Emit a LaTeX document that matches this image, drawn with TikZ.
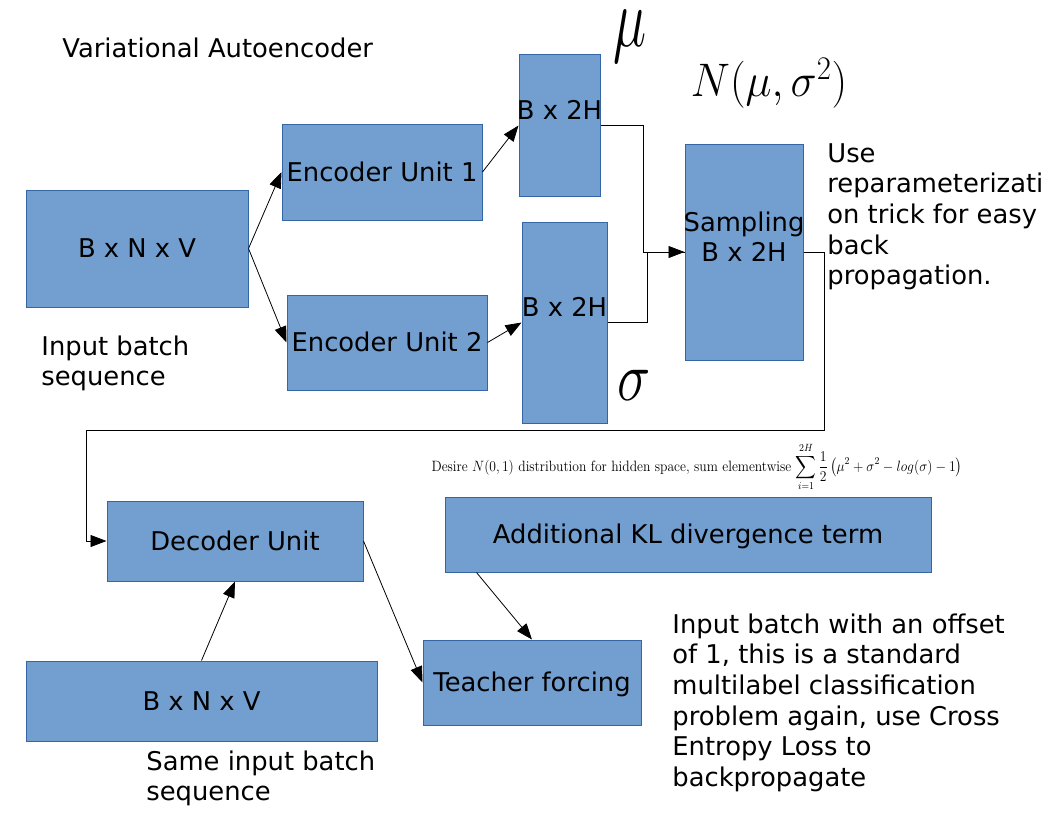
\RequirePackage{fix-cm}
\documentclass[tikz,border=0pt]{standalone}
\usepackage{fontspec}
\setmainfont{DejaVu Sans}
\usepackage{amsmath}
\usepackage{graphicx}
\usetikzlibrary{arrows.meta}

\definecolor{boxfill}{HTML}{729FCF}
\definecolor{boxline}{HTML}{3465A4}

\begin{document}
\begin{tikzpicture}[x=1pt,y=-1pt,->,>={Triangle[length=16pt,width=12pt]},line width=0.8pt,
  unit node/.style={rectangle,fill=boxfill,draw=boxline,line width=1pt,inner sep=0pt,
    text height=18.8pt,text depth=0pt,font=\fontsize{25.8pt}{30.7pt}\selectfont},
  note node/.style={align=left,anchor=base west,inner sep=0pt,font=\fontsize{25.8pt}{30.7pt}\selectfont},
  greek node/.style={inner sep=0pt}]
   \useasboundingbox (0,0) rectangle (1056,816);
   % encoder side
   \node[unit node,minimum width=222pt,minimum height=117pt] (inp) at (137,248.5) {B x N x V};
   \node[unit node,minimum width=200pt,minimum height=96pt] (enc1) at (382,172) {Encoder Unit 1};
   \node[unit node,minimum width=200pt,minimum height=95pt] (enc2) at (387,342.5) {Encoder Unit 2};
   \node[unit node,minimum width=81pt,minimum height=141pt,text depth=31pt] (mu) at (559.5,125.5) {\makebox[0pt]{B x 2H}};
   \node[unit node,minimum width=85pt,minimum height=201pt,text depth=31pt] (sig) at (564.5,322.5) {\makebox[0pt]{B x 2H}};
   \node[unit node,minimum width=118pt,minimum height=216pt,align=center,text height=49.5pt,text depth=30pt] (samp) at (744,252)
     {\makebox[0pt]{Sampling}\\\makebox[0pt]{B x 2H}};
   % decoder side
   \node[unit node,minimum width=256pt,minimum height=80pt] (dec) at (235,541) {Decoder Unit};
   \node[unit node,minimum width=351pt,minimum height=80pt] (inp2) at (201.5,701) {B x N x V};
   \node[unit node,minimum width=218pt,minimum height=85pt] (tf) at (532,682.5) {Teacher forcing};
   \node[unit node,minimum width=486pt,minimum height=75pt] (kl) at (688,534.5) {Additional KL divergence term};
   % labels (base = last line)
   \node[note node] (title) at (62,57) {Variational Autoencoder};
   \node[note node] (inpnote) at (41,385.7) {Input batch\\sequence};
   \node[note node] (inp2note) at (146,800.7) {Same input batch\\sequence};
   \node[note node] (sampnote) at (827,284.8) {Use\\reparameterizati\\on trick for easy\\back\\propagation.};
   \node[note node] (tfnote) at (672,786.5) {Input batch with an offset\\of 1, this is a standard\\multilabel classification\\problem again, use Cross\\Entropy Loss to\\backpropagate};
   \node[greek node,font=\fontsize{56pt}{60pt}\selectfont] (mulabel) at (630,36.5) {\scalebox{1}[1.5]{$\mu$}};
   \node[greek node,font=\fontsize{56pt}{60pt}\selectfont] (siglabel) at (634,385) {\scalebox{1}[1.25]{$\sigma$}};
   \node[greek node,font=\fontsize{44pt}{50pt}\selectfont] (dist) at (769,83.5) {\scalebox{1}[1.07]{$N(\mu,\sigma^2)$}};
   \node[greek node,font=\fontsize{13.6pt}{16pt}\fontfamily{lmr}\selectfont] (kllabel) at (697,467)
     {\scalebox{1}[1.1]{Desire $N(0,1)$ distribution for hidden space, sum elementwise
      $\displaystyle\sum_{i=1}^{2H}\frac{1}{2}\left(\mu^2+\sigma^2-log(\sigma)-1\right)$}};
    \path[->]
    (inp.east) edge (enc1.west)
               edge (enc2.west)
    (enc1.east) edge (mu.west)
    (enc2.east) edge (sig.west)
    (inp2.north) edge (dec.south)
    (dec.east) edge (tf.west)
    ([xshift=32pt]kl.south west) edge (tf.north);
    \draw[->] (mu.east) -- ++(43,0) |- (samp.west);
    \draw[-] (sig.east) -- ++(40,0) |- (samp.west);
    \draw[->] (samp.east) -- ++(21,0) -- ++(0,178) -| ([xshift=-20pt]dec.west) -- (dec.west);
\end{tikzpicture}
\end{document}
